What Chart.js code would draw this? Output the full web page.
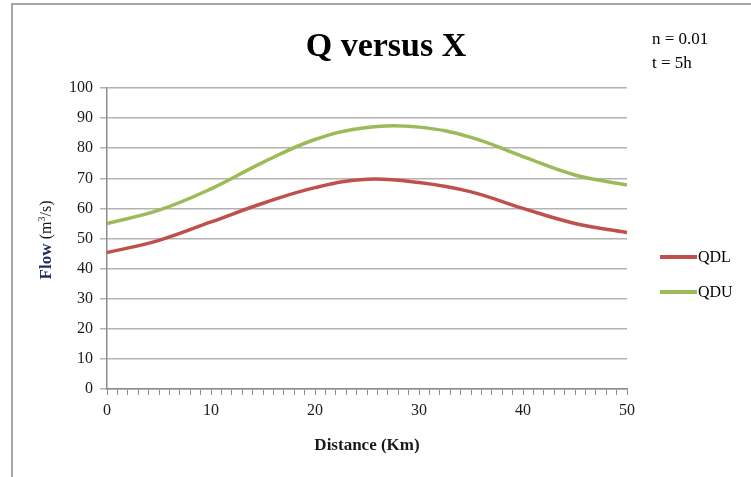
<!DOCTYPE html>
<html>
<head>
<meta charset="utf-8">
<script src="https://cdn.jsdelivr.net/npm/chart.js@4"></script>
<style>
    body { margin: 0; background: #ffffff; }
    #wrap { width: 751px; height: 477px; }
</style>
</head>
<body>
<div id="wrap"><canvas id="flowChart" width="751" height="477"></canvas></div>
<script>
const distances = [0, 5, 10, 15, 20, 25, 30, 35, 40, 45, 50];
const qdl = [45.3, 49.4, 55.5, 61.7, 66.9, 69.7, 68.6, 65.5, 60.0, 55.0, 52.0];
const qdu = [55.0, 59.4, 66.5, 75.3, 82.9, 86.9, 87.0, 83.6, 77.2, 71.1, 67.8];
const seriesNames = ['QDL', 'QDU'];
const seriesColors = ['#C0504D', '#9BBB59'];
const notes = ['n = 0.01', 't = 5h'];

const serif = '"Liberation Serif", "Times New Roman", serif';

function toPoints(values) {
    return distances.map((d, i) => ({ x: d, y: values[i] }));
}

// frame, title, notes, axis titles and legend drawn by hand
const decorPlugin = {
    id: 'decor',
    beforeDraw(chart) {
        const ctx = chart.ctx;
        ctx.save();
        ctx.fillStyle = '#ffffff';
        ctx.fillRect(0, 0, chart.width, chart.height);
        ctx.strokeStyle = '#a6a6a6';
        ctx.lineWidth = 2;
        ctx.beginPath();
        ctx.moveTo(12, chart.height);
        ctx.lineTo(12, 4);
        ctx.lineTo(chart.width, 4);
        ctx.stroke();
        ctx.restore();
    },
    afterDraw(chart) {
        const ctx = chart.ctx;
        const area = chart.chartArea;
        ctx.save();

        ctx.fillStyle = '#000000';
        ctx.textAlign = 'center';
        ctx.textBaseline = 'alphabetic';
        ctx.font = 'bold 34px ' + serif;
        ctx.fillText('Q versus X', 386, 56);

        ctx.textAlign = 'left';
        ctx.font = '17px ' + serif;
        ctx.fillText(notes[0], 652, 44);
        ctx.fillText(notes[1], 652, 68);

        // x axis title
        ctx.textAlign = 'center';
        ctx.font = 'bold 17px ' + serif;
        ctx.fillStyle = '#1a1a1a';
        ctx.fillText('Distance (Km)', (area.left + area.right) / 2, 450);

        // y axis title, rotated
        ctx.translate(51, 240);
        ctx.rotate(-Math.PI / 2);
        ctx.font = 'bold 17px ' + serif;
        const w1 = ctx.measureText('Flow ').width;
        ctx.font = '16px ' + serif;
        const w2 = ctx.measureText('(m').width;
        const w3 = ctx.measureText('/s)').width;
        ctx.font = '10px ' + serif;
        const wSup = ctx.measureText('3').width;
        let x = -(w1 + w2 + wSup + w3) / 2;
        ctx.textAlign = 'left';
        ctx.font = 'bold 17px ' + serif;
        ctx.fillStyle = '#1f2a5c';
        ctx.fillText('Flow ', x, 0);
        x += w1;
        ctx.fillStyle = '#1a1a1a';
        ctx.font = '16px ' + serif;
        ctx.fillText('(m', x, 0);
        x += w2;
        ctx.font = '10px ' + serif;
        ctx.fillText('3', x, -6);
        x += wSup;
        ctx.font = '16px ' + serif;
        ctx.fillText('/s)', x, 0);
        ctx.restore();

        // legend
        ctx.save();
        const legendY = [257, 292];
        chart.data.datasets.forEach((ds, i) => {
            ctx.strokeStyle = ds.borderColor;
            ctx.lineWidth = 4;
            ctx.beginPath();
            ctx.moveTo(660, legendY[i]);
            ctx.lineTo(697, legendY[i]);
            ctx.stroke();
            ctx.fillStyle = '#000000';
            ctx.font = '16px ' + serif;
            ctx.textAlign = 'left';
            ctx.textBaseline = 'middle';
            ctx.fillText(ds.label, 698, legendY[i] + 1);
        });
        ctx.restore();
    }
};

function initChart() {
    const ctx = document.getElementById('flowChart').getContext('2d');
    new Chart(ctx, {
        type: 'line',
        data: {
            datasets: [
                {
                    label: seriesNames[0],
                    data: toPoints(qdl),
                    borderColor: seriesColors[0],
                    borderWidth: 3.5,
                    pointRadius: 0,
                    tension: 0.4,
                    fill: false
                },
                {
                    label: seriesNames[1],
                    data: toPoints(qdu),
                    borderColor: seriesColors[1],
                    borderWidth: 3.5,
                    pointRadius: 0,
                    tension: 0.4,
                    fill: false
                }
            ]
        },
        options: {
            responsive: false,
            animation: false,
            devicePixelRatio: 1,
            layout: { padding: { top: 88, right: 124, left: 0, bottom: 0 } },
            plugins: {
                legend: { display: false },
                title: { display: false },
                tooltip: { enabled: false }
            },
            scales: {
                x: {
                    type: 'linear',
                    min: 0,
                    max: 50,
                    afterFit: scale => { scale.height = 88; },
                    border: { color: '#8c8c8c', width: 1.5 },
                    grid: {
                        drawOnChartArea: false,
                        drawTicks: true,
                        tickLength: 6,
                        color: '#8c8c8c',
                        lineWidth: 1
                    },
                    ticks: {
                        stepSize: 1,
                        autoSkip: false,
                        maxRotation: 0,
                        padding: 6,
                        color: '#1a1a1a',
                        font: { family: serif, size: 16 },
                        callback: v => (v % 10 === 0 ? String(v) : '')
                    }
                },
                y: {
                    min: 0,
                    max: 100,
                    afterFit: scale => { scale.width = 107; },
                    border: { color: '#8c8c8c', width: 1.5 },
                    grid: {
                        color: '#b3b3b3',
                        lineWidth: 1.5,
                        tickLength: 7
                    },
                    ticks: {
                        stepSize: 10,
                        padding: 7,
                        color: '#1a1a1a',
                        font: { family: serif, size: 16 }
                    }
                }
            }
        },
        plugins: [decorPlugin]
    });
}

initChart();
</script>
</body>
</html>
